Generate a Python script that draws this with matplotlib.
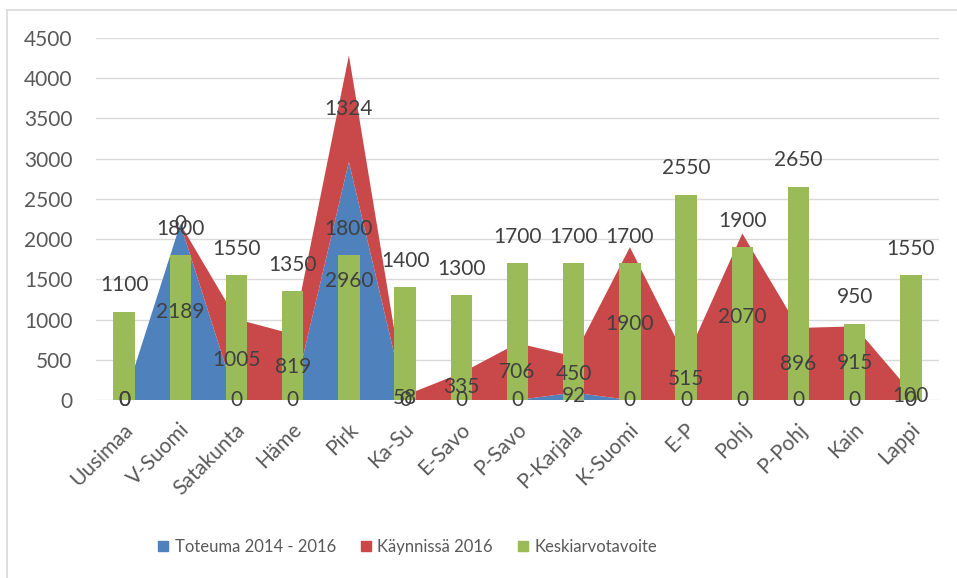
import numpy as np
import matplotlib.pyplot as plt
import matplotlib.transforms as mtransforms
from matplotlib.lines import Line2D

plt.rcParams["font.family"] = ["Lato", "DejaVu Sans"]

regions = ["Uusimaa", "V-Suomi", "Satakunta", "Häme", "Pirk", "Ka-Su", "E-Savo",
           "P-Savo", "P-Karjala", "K-Suomi", "E-P", "Pohj", "P-Pohj", "Kain", "Lappi"]
toteuma = [0, 2189, 0, 0, 2960, 0, 0, 0, 92, 0, 0, 0, 0, 0, 0]
kaynnissa = [0, 0, 1005, 819, 1324, 58, 335, 706, 450, 1900, 515, 2070, 896, 915, 100]
tavoite = [1100, 1800, 1550, 1350, 1800, 1400, 1300, 1700, 1700, 1700, 2550, 1900, 2650, 950, 1550]
yticks = list(range(0, 4501, 500))

blue = "#4F81BD"
red = "#C9484A"
green = "#9BBB59"
label_col = "#404040"
tick_col = "#595959"

fig = plt.figure(figsize=(9.57, 5.78), dpi=100)
ax = fig.add_axes([96 / 957, 1 - 400 / 578, (939 - 96) / 957, (400 - 38) / 578])

x = np.arange(len(regions))
ax.stackplot(x, toteuma, kaynnissa, colors=[blue, red], zorder=2)
ax.bar(x, tavoite, width=0.38, color=green, zorder=3)

# data labels: areas in the middle of each band, bars above the top
for i in range(len(regions)):
    t = toteuma[i]
    k = kaynnissa[i]
    ax.text(i, t / 2, str(t), ha="center", va="center", fontsize=15,
            color=label_col, zorder=5)
    ax.text(i, t + k / 2, str(k), ha="center", va="center", fontsize=15,
            color=label_col, zorder=5)
    ax.annotate(str(tavoite[i]), (i, tavoite[i]), xytext=(0, 19),
                textcoords="offset points", ha="center", va="center",
                fontsize=15, color=label_col, zorder=5)

ax.set_xlim(-0.5, len(regions) - 0.5)
ax.set_ylim(0, 4500)
ax.set_yticks(yticks)
ax.set_xticks(x)
ax.set_xticklabels(regions, rotation=45, ha="right", rotation_mode="anchor")
ax.tick_params(axis="both", length=0, labelsize=15, colors=tick_col)
ax.tick_params(axis="y", pad=17)
ax.tick_params(axis="x", pad=14)
shift = mtransforms.ScaledTranslation(-1 / 72, 0, fig.dpi_scale_trans)
for lab in ax.get_xticklabels():
    lab.set_transform(lab.get_transform() + shift)
ax.grid(axis="y", color="#D9D9D9", linewidth=1)
ax.set_axisbelow(True)
for s in ax.spines.values():
    s.set_visible(False)

handles = [Line2D([], [], marker="s", linestyle="", markersize=7, color=c)
           for c in (blue, red, green)]
fig.legend(handles, ["Toteuma 2014 - 2016", "Käynnissä 2016", "Keskiarvotavoite"],
           loc="center", bbox_to_anchor=(406 / 957, 1 - 547 / 578), ncol=3,
           frameon=False, fontsize=12, handletextpad=0.2, columnspacing=1.3,
           handlelength=1.0, labelcolor=tick_col)

# light chart border
fig.add_artist(Line2D([7 / 957, 7 / 957], [0, 1 - 10 / 578], color="#D9D9D9",
                      linewidth=1.2, transform=fig.transFigure))
fig.add_artist(Line2D([7 / 957, 1], [1 - 10 / 578, 1 - 10 / 578], color="#D9D9D9",
                      linewidth=1.2, transform=fig.transFigure))

fig.savefig("out.png", dpi=100)
